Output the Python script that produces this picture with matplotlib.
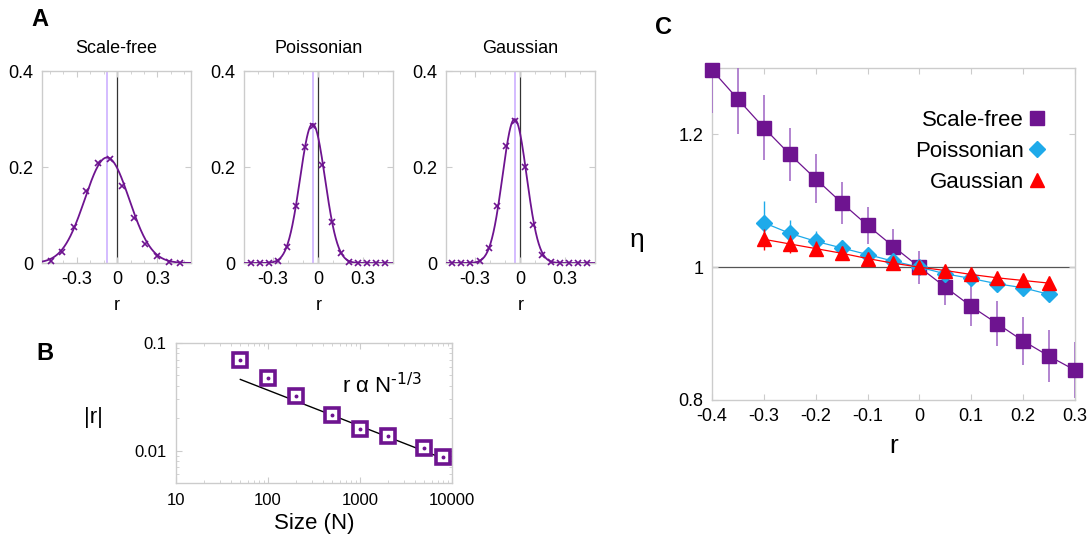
import numpy as np
import matplotlib
matplotlib.use("Agg")
import matplotlib.pyplot as plt
from matplotlib.lines import Line2D
from matplotlib.ticker import FixedLocator, MultipleLocator, NullFormatter

plt.rcParams['font.family'] = ['Liberation Sans', 'DejaVu Sans']
plt.rcParams['axes.unicode_minus'] = False
plt.rcParams['mathtext.default'] = 'regular'

# ---- panel A: distributions of r ----
names_a = ["Scale-free", "Poissonian", "Gaussian"]
r_sf = [-0.496, -0.41, -0.319, -0.230, -0.145, -0.05, 0.037, 0.123, 0.21, 0.296, 0.383, 0.47]
p_sf = [0.005, 0.024, 0.076, 0.151, 0.208, 0.217, 0.161, 0.094, 0.040, 0.014, 0.002, 0.0]
r_po = [-0.442, -0.382, -0.325, -0.265, -0.205, -0.147, -0.087, -0.031,
        0.031, 0.091, 0.151, 0.209, 0.269, 0.329, 0.387, 0.447]
p_po = [0, 0, 0, 0.005, 0.033, 0.119, 0.241, 0.285, 0.205, 0.085, 0.021, 0.002, 0, 0, 0, 0]
r_ga = [-0.451, -0.391, -0.329, -0.267, -0.207, -0.151, -0.089, -0.029,
        0.031, 0.089, 0.149, 0.209, 0.267, 0.327, 0.383, 0.445]
p_ga = [0, 0, 0, 0.004, 0.031, 0.118, 0.245, 0.297, 0.2, 0.08, 0.016, 0.002, 0, 0, 0, 0]
# gaussian fit parameters: amplitude, mean, sigma
fit_amp = [0.22, 0.29, 0.30]
fit_mean = [-0.076, -0.035, -0.035]
fit_sigma = [0.165, 0.083, 0.080]
xlims_a = [(-0.56, 0.55), (-0.49, 0.5), (-0.49, 0.5)]

# ---- panel B: |r| vs size ----
size_n = [50, 100, 200, 500, 1000, 2000, 5000, 8000]
abs_r = [0.069, 0.0475, 0.0325, 0.0215, 0.0159, 0.0136, 0.0105, 0.0088]
fit_c = 0.169
fit_exp = -1.0 / 3

# ---- panel C: eta vs r ----
r_c = [-0.4, -0.35, -0.3, -0.25, -0.2, -0.15, -0.1, -0.05, 0, 0.05, 0.1, 0.15, 0.2, 0.25, 0.3]
eta_sf = [1.297, 1.253, 1.210, 1.170, 1.133, 1.097, 1.063, 1.031, 1.0,
          0.970, 0.941, 0.915, 0.889, 0.866, 0.845]
err_sf = [0.065, 0.052, 0.049, 0.040, 0.037, 0.032, 0.028, 0.026, 0.025,
          0.027, 0.030, 0.034, 0.036, 0.039, 0.042]
r_c2 = [-0.3, -0.25, -0.2, -0.15, -0.1, -0.05, 0, 0.05, 0.1, 0.15, 0.2, 0.25]
eta_po = [1.067, 1.051, 1.039, 1.029, 1.019, 1.009, 1.0, 0.990, 0.983, 0.975, 0.969, 0.959]
err_po = [0.033, 0.02, 0.015, 0.012, 0.01, 0.008, 0.006, 0.006, 0.007, 0.008, 0.009, 0.01]
eta_ga = [1.042, 1.035, 1.028, 1.021, 1.013, 1.006, 1.0, 0.995, 0.989, 0.984, 0.980, 0.976]
err_ga = [0.016, 0.013, 0.011, 0.009, 0.008, 0.006, 0.005, 0.005, 0.006, 0.006, 0.007, 0.008]

purple = '#6e1490'
purple_err = '#a570c8'
lavender = '#cdb0ff'
cyan = '#1eaaea'
red = '#ff0000'
frame = '#cccccc'

fig = plt.figure(figsize=(10.88, 5.39), dpi=100)


def style_frame(ax):
    for s in ax.spines.values():
        s.set_color(frame)
        s.set_linewidth(1.0)
    ax.tick_params(which='both', direction='in', top=True, right=True, color=frame)


# panel A
lefts = [0.0386, 0.2243, 0.410]
r_a = [r_sf, r_po, r_ga]
p_a = [p_sf, p_po, p_ga]
for i in range(3):
    ax = fig.add_axes([lefts[i], 0.512, 0.137, 0.356])
    style_frame(ax)
    xx = np.linspace(xlims_a[i][0], xlims_a[i][1], 300)
    yy = fit_amp[i] * np.exp(-(xx - fit_mean[i]) ** 2 / (2 * fit_sigma[i] ** 2))
    ax.axvline(fit_mean[i], color=lavender, lw=1.2, zorder=1)
    ax.axvline(0, color='#333333', lw=0.9, zorder=1)
    ax.plot(xx, yy, color=purple, lw=1.3, zorder=3)
    ax.plot(r_a[i], p_a[i], 'x', color=purple, ms=4.5, mew=1.2, zorder=4, clip_on=False)
    ax.set_xlim(*xlims_a[i])
    ax.set_ylim(0, 0.4)
    ax.xaxis.set_major_locator(FixedLocator([-0.3, 0, 0.3]))
    ax.xaxis.set_minor_locator(MultipleLocator(0.1))
    ax.yaxis.set_major_locator(FixedLocator([0, 0.2, 0.4]))
    ax.set_xticklabels(['-0.3', '0', '0.3'])
    ax.set_yticklabels(['0', '0.2', '0.4'])
    ax.tick_params(labelsize=13, length=4, pad=6)
    ax.tick_params(which='minor', length=2.5)
    ax.set_title(names_a[i], fontsize=13, pad=13)
    ax.set_xlabel('r', fontsize=13, labelpad=6)

fig.text(40 / 1088, 1 - 20 / 539, 'A', fontsize=17, fontweight='bold', ha='center', va='center')

# panel B
axb = fig.add_axes([0.1618, 0.1039, 0.2537, 0.2597])
style_frame(axb)
axb.set_xscale('log')
axb.set_yscale('log')
nn = np.array([size_n[0], size_n[-1]])
axb.plot(nn, fit_c * nn ** fit_exp, color='black', lw=1.0, zorder=2)
axb.plot(size_n, abs_r, 's', mfc='white', mec=purple, mew=2.6, ms=10, zorder=3)
axb.plot(size_n, abs_r, 'o', color=purple, ms=1.8, zorder=4)
axb.set_xlim(10, 10000)
axb.set_ylim(0.005, 0.1)
axb.xaxis.set_major_locator(FixedLocator([10, 100, 1000, 10000]))
axb.set_xticklabels(['10', '100', '1000', '10000'])
axb.yaxis.set_major_locator(FixedLocator([0.01, 0.1]))
axb.set_yticklabels(['0.01', '0.1'])
axb.yaxis.set_minor_formatter(NullFormatter())
axb.xaxis.set_minor_formatter(NullFormatter())
axb.tick_params(labelsize=12, length=4, pad=7)
axb.tick_params(which='minor', length=2)
axb.set_xlabel('Size (N)', fontsize=16, labelpad=4)
fig.text(93 / 1088, 1 - 417 / 539, '|r|', fontsize=16, ha='center', va='center')
fig.text(342 / 1088, 1 - 386 / 539, r'r α N$^{\text{-1/3}}$', fontsize=16, ha='left', va='center')
fig.text(45 / 1088, 1 - 353 / 539, 'B', fontsize=17, fontweight='bold', ha='center', va='center')

# panel C
axc = fig.add_axes([0.6544, 0.2579, 0.3336, 0.616])
style_frame(axc)
axc.axhline(1.0, color='#555555', lw=0.9, zorder=1)
axc.errorbar(r_c, eta_sf, yerr=err_sf, color=purple, ecolor=purple_err, elinewidth=1.2,
             lw=0.9, fmt='-', capsize=0, zorder=3)
axc.plot(r_c, eta_sf, 's', color=purple, ms=10, zorder=3.5, clip_on=False)
axc.errorbar(r_c2, eta_po, yerr=err_po, color=cyan, ecolor=cyan, elinewidth=1.0,
             lw=0.9, marker='D', ms=8, capsize=0, zorder=4)
axc.errorbar(r_c2, eta_ga, yerr=err_ga, color=red, ecolor=red, elinewidth=1.0,
             lw=0.9, marker='^', ms=10, capsize=0, zorder=5)
axc.set_xlim(-0.4, 0.3)
axc.set_ylim(0.8, 1.3)
xt = [-0.4, -0.3, -0.2, -0.1, 0, 0.1, 0.2, 0.3]
axc.xaxis.set_major_locator(FixedLocator(xt))
axc.set_xticklabels(['-0.4', '-0.3', '-0.2', '-0.1', '0', '0.1', '0.2', '0.3'])
axc.yaxis.set_major_locator(FixedLocator([0.8, 1.0, 1.2]))
axc.set_yticklabels(['0.8', '1', '1.2'])
axc.tick_params(labelsize=13, length=4, pad=6)
axc.set_xlabel('r', fontsize=19, labelpad=6)
fig.text(637 / 1088, 1 - 240 / 539, 'η', fontsize=19, ha='center', va='center')
fig.text(664 / 1088, 1 - 28 / 539, 'C', fontsize=17, fontweight='bold', ha='center', va='center')

handles = [Line2D([], [], ls='none', marker='s', color=purple, ms=10),
           Line2D([], [], ls='none', marker='D', color=cyan, ms=8),
           Line2D([], [], ls='none', marker='^', color=red, ms=10)]
axc.legend(handles, ['Scale-free', 'Poissonian', 'Gaussian'], loc='upper right',
           bbox_to_anchor=(0.945, 0.90), frameon=False, markerfirst=False,
           handlelength=0.8, handletextpad=0.2, labelspacing=0.45, fontsize=16,
           borderaxespad=0)

fig.savefig('out.png', dpi=100)
